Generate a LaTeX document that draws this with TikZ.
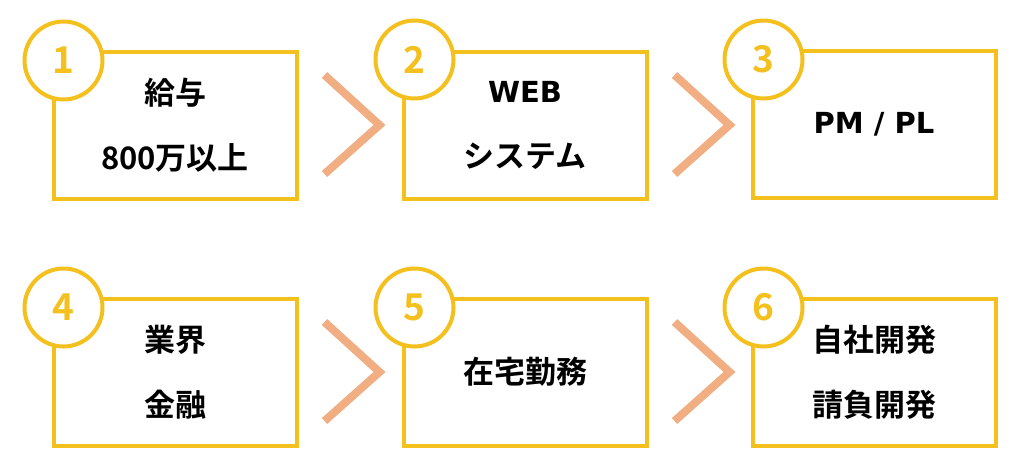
\documentclass[tikz,border=0pt]{standalone}
\usepackage{fontspec}
\setmainfont{Noto Sans CJK JP}[BoldFont={Noto Sans CJK JP Bold}]
\newfontfamily\lat{DejaVu Sans}
\definecolor{gold}{HTML}{F3C01E}
\definecolor{peach}{HTML}{F1AE82}
\begin{document}
\begin{tikzpicture}[x=1pt,y=-1pt,
  box/.style={draw=gold,line width=4pt,minimum width=243pt,minimum height=147pt,
    align=center,font=\bfseries\fontsize{31}{65}\selectfont},
  num/.style={circle,draw=gold,fill=white,line width=4pt,minimum size=78pt,inner sep=0pt,
    text=gold,font=\bfseries\fontsize{37}{37}\selectfont},
  chev/.style={draw=peach,line width=8pt}]
  \useasboundingbox (0,0) rectangle (1024,475);
  \node[box] (b1) at (175,125) {給与\\800万以上};
  \node[box] (b2) at (525,125) {{\lat\bfseries\fontsize{29}{65}\selectfont WEB}\\システム};
  \node[box] (b3) at (874,124) {\lat\bfseries\fontsize{29}{65}\selectfont PM / PL};
  \node[box] (b4) at (175,372) {業界\\金融};
  \node[box] (b5) at (525,372) {在宅勤務};
  \node[box] (b6) at (874,372) {自社開発\\請負開発};
  \node[num] (n1) at ([xshift=12pt,yshift=-11pt]b1.north west) {1};
  \node[num] (n2) at ([xshift=13pt,yshift=-10pt]b2.north west) {2};
  \node[num] (n3) at ([xshift=13pt,yshift=-11pt]b3.north west) {3};
  \node[num] (n4) at ([xshift=12pt,yshift=-11pt]b4.north west) {4};
  \node[num] (n5) at ([xshift=13pt,yshift=-11pt]b5.north west) {5};
  \node[num] (n6) at ([xshift=13pt,yshift=-11pt]b6.north west) {6};
  % chevrons between the boxes
  \draw[chev] ([xshift=26pt,yshift=50pt]b1.east) -- ([xshift=81pt]b1.east) -- ([xshift=26pt,yshift=-49pt]b1.east);
  \draw[chev] ([xshift=26pt,yshift=50pt]b2.east) -- ([xshift=81pt]b2.east) -- ([xshift=26pt,yshift=-49pt]b2.east);
  \draw[chev] ([xshift=26pt,yshift=50pt]b4.east) -- ([xshift=81pt]b4.east) -- ([xshift=26pt,yshift=-49pt]b4.east);
  \draw[chev] ([xshift=26pt,yshift=50pt]b5.east) -- ([xshift=81pt]b5.east) -- ([xshift=26pt,yshift=-49pt]b5.east);
\end{tikzpicture}
\end{document}
